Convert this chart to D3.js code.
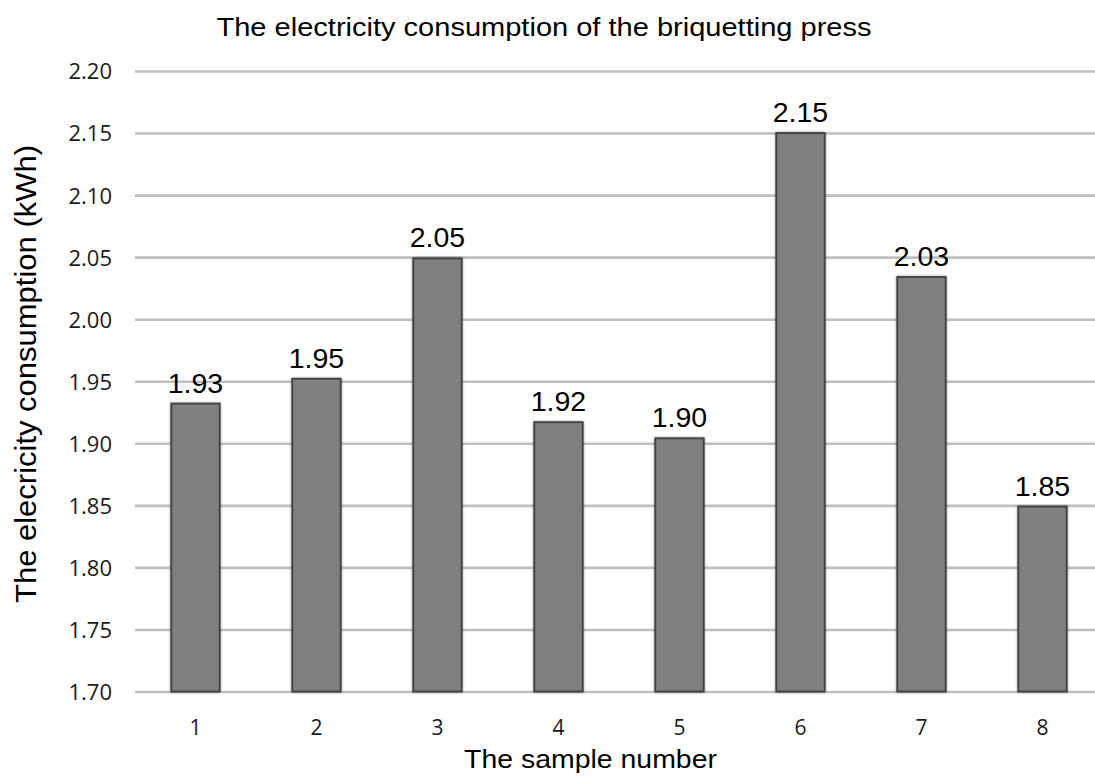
<!DOCTYPE html>
<html>
<head>
<meta charset="utf-8">
<script src="https://cdn.jsdelivr.net/npm/d3@7/dist/d3.min.js"></script>
<style>
  html, body { margin: 0; padding: 0; background: #fff; }
  svg { display: block; }
</style>
</head>
<body>
<svg id="chart" width="1095" height="776"></svg>
<script>
const categories = ["1", "2", "3", "4", "5", "6", "7", "8"];
const values = [1.932, 1.952, 2.049, 1.917, 1.904, 2.150, 2.034, 1.849];
const yTicks = [1.70, 1.75, 1.80, 1.85, 1.90, 1.95, 2.00, 2.05, 2.10, 2.15, 2.20];
const titleText = "The electricity consumption of the briquetting press";
const xTitleText = "The sample number";
const yTitleText = "The elecricity consumption (kWh)";

const svg = d3.select("#chart");
const plotLeft = 135, plotRight = 1103, plotTop = 71, plotBottom = 691.5;

const x = d3.scaleBand().domain(categories).range([plotLeft, plotRight])
  .paddingInner(0.6).paddingOuter(0.3);
const y = d3.scaleLinear().domain([1.70, 2.20]).range([plotBottom, plotTop]);

// soft shadow for bars
const defs = svg.append("defs");
const f = defs.append("filter").attr("id", "sh").attr("x", "-20%").attr("y", "-5%").attr("width", "140%").attr("height", "110%");
f.append("feGaussianBlur").attr("in", "SourceAlpha").attr("stdDeviation", 1.2).attr("result", "b");
f.append("feOffset").attr("in", "b").attr("dx", 0).attr("dy", 0).attr("result", "o");
f.append("feComponentTransfer").attr("in", "o").attr("result", "o2")
  .append("feFuncA").attr("type", "linear").attr("slope", 0.5);
const m = f.append("feMerge");
m.append("feMergeNode").attr("in", "o2");
m.append("feMergeNode").attr("in", "SourceGraphic");

// gridlines
const grid = svg.append("g").attr("transform", `translate(${plotLeft},0)`)
  .call(d3.axisLeft(y).tickValues(yTicks).tickSize(-(plotRight - plotLeft)).tickFormat(""));
grid.select(".domain").remove();
grid.selectAll(".tick line").attr("stroke", "#bfbfbf").attr("stroke-width", 2.6);

// y tick labels
const yAxis = svg.append("g").attr("transform", `translate(112,0)`)
  .call(d3.axisLeft(y).tickValues(yTicks).tickSize(0).tickPadding(0).tickFormat(d3.format(".2f")));
yAxis.select(".domain").remove();
yAxis.selectAll("text").attr("font-family", "'Open Sans', sans-serif")
  .attr("font-size", 22).attr("fill", "#1a1a1a").attr("dy", "0.36em");

// x tick labels
const xAxis = svg.append("g").attr("transform", `translate(0,${plotBottom})`)
  .call(d3.axisBottom(x).tickSize(0).tickPadding(0));
xAxis.select(".domain").remove();
xAxis.selectAll("text").attr("font-family", "'Open Sans', sans-serif")
  .attr("font-size", 21).attr("fill", "#1a1a1a").attr("dy", null).attr("y", 43);

// bars
svg.append("g").selectAll("rect").data(values).join("rect")
  .attr("x", (d, i) => x(categories[i]))
  .attr("width", x.bandwidth())
  .attr("y", d => y(d))
  .attr("height", d => y(1.70) - y(d))
  .attr("fill", "#7f7f7f")
  .attr("stroke", "#404040")
  .attr("stroke-width", 1.8)
  .attr("filter", "url(#sh)");

// value labels
svg.append("g").selectAll("text").data(values).join("text")
  .attr("x", (d, i) => x(categories[i]) + x.bandwidth() / 2)
  .attr("y", d => y(d) - 11)
  .attr("text-anchor", "middle")
  .attr("font-family", "'Liberation Sans', Arial, sans-serif")
  .attr("font-size", 28.5)
  .attr("fill", "#000")
  .text(d => d.toFixed(2));

// title
svg.append("text").attr("x", 544).attr("y", 36).attr("text-anchor", "middle")
  .attr("font-family", "'Liberation Sans', Arial, sans-serif").attr("font-size", 25)
  .attr("textLength", 655).attr("lengthAdjust", "spacingAndGlyphs")
  .attr("fill", "#000").text(titleText);

// x title
svg.append("text").attr("x", 590.5).attr("y", 768).attr("text-anchor", "middle")
  .attr("font-family", "'Liberation Sans', Arial, sans-serif").attr("font-size", 25.5)
  .attr("textLength", 253).attr("lengthAdjust", "spacingAndGlyphs")
  .attr("fill", "#000").text(xTitleText);

// y title
svg.append("text").attr("transform", "translate(36,374) rotate(-90)").attr("text-anchor", "middle")
  .attr("font-family", "'Liberation Sans', Arial, sans-serif").attr("font-size", 30)
  .attr("textLength", 458).attr("lengthAdjust", "spacingAndGlyphs")
  .attr("fill", "#000").text(yTitleText);
</script>
</body>
</html>
